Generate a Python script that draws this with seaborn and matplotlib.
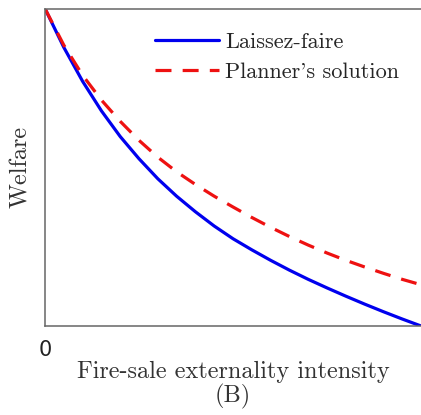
import numpy as np
import pandas as pd
import matplotlib
matplotlib.use("Agg")
import matplotlib.pyplot as plt
import seaborn as sns

# Values (x and welfare both in 0..1 units)
intensity = [0.00, 0.05, 0.10, 0.15, 0.20, 0.25, 0.30, 0.35, 0.40, 0.45, 0.50,
             0.55, 0.60, 0.65, 0.70, 0.75, 0.80, 0.85, 0.90, 0.95, 1.00]
laissez_faire = [1.000, 0.878, 0.771, 0.678, 0.597, 0.527, 0.464, 0.409, 0.360, 0.315, 0.275,
                 0.240, 0.207, 0.176, 0.147, 0.120, 0.094, 0.069, 0.045, 0.022, 0.000]
planner = [1.000, 0.885, 0.790, 0.712, 0.645, 0.585, 0.532, 0.486, 0.446, 0.409, 0.375,
           0.342, 0.311, 0.282, 0.255, 0.230, 0.207, 0.186, 0.166, 0.147, 0.130]

data = pd.DataFrame({'intensity': intensity,
                     'Laissez-faire': laissez_faire,
                     "Planner's solution": planner})

sns.set_style('white')
plt.rcParams['font.family'] = ['cmr10', 'DejaVu Serif']
plt.rcParams['axes.formatter.use_mathtext'] = True

fig = plt.figure(figsize=(4.21, 4.15), dpi=100)
ax = fig.add_axes([0.107, 0.2145, 0.893, 0.7645])

sns.lineplot(data=data, x='intensity', y='Laissez-faire', ax=ax,
             color='#0000ee', linewidth=2.3, label='Laissez-faire')
sns.lineplot(data=data, x='intensity', y="Planner's solution", ax=ax,
             color='#ee1111', linewidth=2.3, linestyle=(0, (5, 3.5)),
             label="Planner's solution")

ax.set_xlim(0, 1)
ax.set_ylim(0, 1)
ax.set_xticks([0])
ax.set_xticklabels(['0'], fontfamily='DejaVu Sans', fontsize=15)
ax.set_yticks([])
ax.tick_params(axis='x', length=0, pad=10, colors='#222222')

ax.set_xlabel('Fire-sale externality intensity\n(B)', fontsize=17.5,
              color='#333333', labelpad=1, linespacing=1.0)
ax.set_ylabel('Welfare', fontsize=17.5, color='#333333', labelpad=9)

for side in ['left', 'bottom', 'top']:
    ax.spines[side].set_color('#666666')
    ax.spines[side].set_linewidth(1.1)
ax.spines['right'].set_visible(False)

ax.legend(loc='upper left', bbox_to_anchor=(0.293, 0.925), frameon=False,
          fontsize=16, handlelength=2.85, handletextpad=0.3,
          borderpad=0, borderaxespad=0, labelspacing=0.45)

plt.savefig('out.png', dpi=100)
